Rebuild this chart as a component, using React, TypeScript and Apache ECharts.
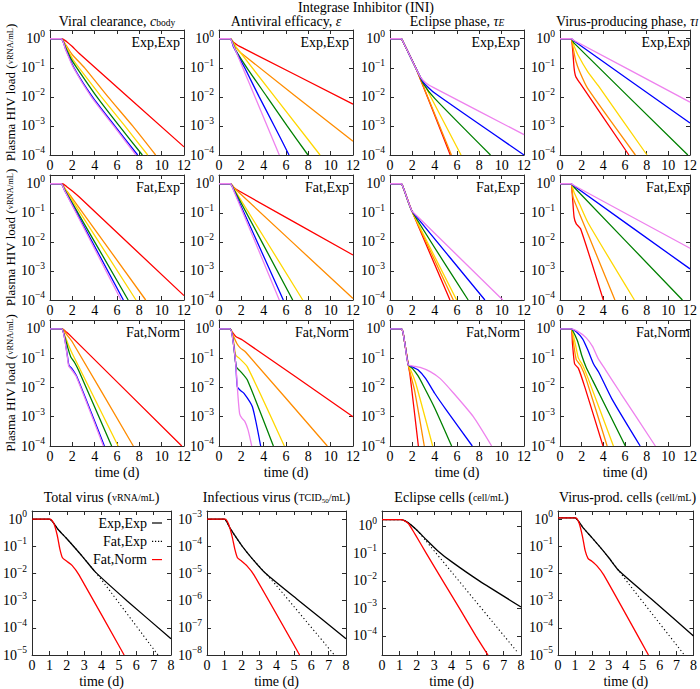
import React, { useEffect, useRef } from "react";
import * as echarts from "echarts";

// Every curve point is [time (d), log10 of the plotted quantity].
type Pt = [number, number];

// ---------------- texts / ticks ----------------
const SUPER_TITLE = "Integrase Inhibitor (INI)";
const COLUMN_TITLES = [
  "Viral clearance, {i|c}{sub|body}",
  "Antiviral efficacy, {i|ε}",
  "Eclipse phase, {i|τ}{subi|E}",
  "Virus-producing phase, {i|τ}{subi|I}",
];
const ROW_TAGS = ["Exp,Exp", "Fat,Exp", "Fat,Norm"];
const BOTTOM_TITLES = [
  "Total virus ({f|vRNA/mL})",
  "Infectious virus ({f|TCID}{fs|50}{f|/mL})",
  "Eclipse cells ({f|cell/mL})",
  "Virus-prod. cells ({f|cell/mL})",
];
const Y_NAME = "Plasma HIV load ({f|vRNA/mL})";
const X_NAME = "time (d)";
const TOP_X = [0, 12, 2]; // min, max, interval
const BOTTOM_X = [0, 8, 1];
const TOP_Y = [1e-4, 2];
const BOTTOM_Y = [
  [1e-5, 2],
  [1e-8, 2e-3],
  [2e-5, 3.5],
  [1e-5, 2],
];
const LEGEND_NAMES = ["Exp,Exp", "Fat,Exp", "Fat,Norm"];

// ---------------- row 1 : Exp,Exp (red, orange, gold, green, blue, violet) ----------------
const clearanceExpExp: Pt[][] = [
  [[0, 0], [1.05, 0], [1.5, -0.1], [2, -0.27], [2.6, -0.5], [12, -3.72]],
  [[0, 0], [1, 0], [1.4, -0.2], [2, -0.55], [3.1, -1], [5.2, -2], [7.4, -3], [9.46, -4]],
  [[0, 0], [1, 0], [1.4, -0.25], [2, -0.68], [2.6, -1], [4.6, -2], [6.7, -3], [8.75, -4]],
  [[0, 0], [1, 0], [1.4, -0.3], [1.9, -0.7], [2.4, -1], [4.2, -2], [6.2, -3], [8.27, -4]],
  [[0, 0], [1, 0], [1.4, -0.35], [2.15, -1], [3.8, -2], [5.8, -3], [7.85, -4]],
  [[0, 0], [1, 0], [1.4, -0.38], [2.1, -1], [3.7, -2], [5.7, -3], [7.7, -4]],
];
const efficacyExpExp: Pt[][] = [
  [[0, 0], [1, 0], [1.3, -0.12], [1.7, -0.23], [2.2, -0.33], [12, -2.25]],
  [[0, 0], [1, 0], [1.5, -0.3], [2, -0.5], [12, -3.53]],
  [[0, 0], [1, 0], [1.5, -0.27], [9.05, -4]],
  [[0, 0], [1, 0], [1.5, -0.4], [2.5, -1], [4.3, -2], [6.1, -3], [7.97, -4]],
  [[0, 0], [1, 0], [1.3, -0.28], [2.3, -1], [3.6, -2], [4.95, -3], [6.27, -4]],
  [[0, 0], [1, 0], [1.2, -0.15], [5.4, -4]],
];
const eclipseExpExp: Pt[][] = [
  [[0, 0], [1, 0], [1.2, -0.13], [2.3, -1], [5.4, -4]],
  [[0, 0], [1, 0], [1.2, -0.13], [2.3, -1], [5.5, -4]],
  [[0, 0], [1, 0], [1.2, -0.13], [2.3, -1], [6.36, -4]],
  [[0, 0], [1, 0], [1.2, -0.13], [2.2, -0.92], [3, -1.55], [4, -2.05], [9, -4]],
  [[0, 0], [1, 0], [1.2, -0.13], [2.2, -0.92], [3, -1.5], [4, -1.87], [12, -4]],
  [[0, 0], [1, 0], [1.2, -0.13], [2.2, -0.92], [2.7, -1.3], [3.3, -1.55], [4, -1.7], [12, -3.3]],
];
const producingExpExp: Pt[][] = [
  [[0, 0], [1, 0], [1.15, -0.3], [1.3, -1.0], [1.45, -1.3], [1.8, -1.5], [6.36, -4]],
  [[0, 0], [1, 0], [1.2, -0.3], [1.45, -0.75], [1.8, -1.12], [2.54, -1.7], [6.96, -4]],
  [[0, 0], [1, 0], [1.3, -0.25], [1.65, -0.55], [2.54, -1.12], [3.5, -1.6], [8.03, -4]],
  [[0, 0], [1, 0], [1.3, -0.15], [11.8, -4]],
  [[0, 0], [1.05, 0], [1.3, -0.08], [12, -2.9]],
  [[0, 0], [1.05, 0], [1.3, -0.06], [12, -2.18]],
];

// ---------------- row 2 : Fat,Exp ----------------
const clearanceFatExp: Pt[][] = [
  [[0, 0], [1.1, 0], [1.5, -0.1], [2, -0.25], [2.6, -0.45], [12, -3.85]],
  [[0, 0], [1, 0], [1.4, -0.2], [2, -0.5], [8.57, -4]],
  [[0, 0], [1, 0], [1.4, -0.22], [7.7, -4]],
  [[0, 0], [1, 0], [1.3, -0.2], [7.0, -4]],
  [[0, 0], [1, 0], [1.3, -0.22], [6.57, -4]],
  [[0, 0], [1, 0], [1.3, -0.23], [6.36, -4]],
];
const efficacyFatExp: Pt[][] = [
  [[0, 0], [1, 0], [1.3, -0.12], [1.8, -0.25], [12, -2.45]],
  [[0, 0], [1, 0], [1.5, -0.2], [12, -3.95]],
  [[0, 0], [1, 0], [1.3, -0.15], [7.5, -4]],
  [[0, 0], [1, 0], [1.3, -0.17], [6.6, -4]],
  [[0, 0], [1, 0], [1.3, -0.2], [5.76, -4]],
  [[0, 0], [1, 0], [1.3, -0.22], [5.4, -4]],
];
const eclipseFatExp: Pt[][] = [
  [[0, 0], [1, 0], [1.2, -0.15], [1.94, -0.92], [5.37, -4]],
  [[0, 0], [1, 0], [1.2, -0.15], [1.94, -0.92], [5.67, -4]],
  [[0, 0], [1, 0], [1.2, -0.15], [1.94, -0.92], [5.97, -4]],
  [[0, 0], [1, 0], [1.2, -0.15], [1.94, -0.92], [7.0, -4]],
  [[0, 0], [1, 0], [1.2, -0.15], [1.94, -0.92], [2.4, -1.15], [8.5, -4]],
  [[0, 0], [1, 0], [1.2, -0.15], [1.94, -0.92], [2.4, -1.1], [10.1, -4]],
];
const producingFatExp: Pt[][] = [
  [[0, 0], [1, 0], [1.12, -0.3], [1.3, -1.15], [1.5, -1.38], [1.9, -1.55], [4.0, -4]],
  [[0, 0], [1, 0], [1.2, -0.46], [1.8, -1.03], [2.7, -1.84], [5.07, -4]],
  [[0, 0], [1, 0], [1.3, -0.3], [1.8, -0.7], [2.6, -1.35], [6.87, -4]],
  [[0, 0], [1, 0], [1.3, -0.12], [11.3, -4]],
  [[0, 0], [1, 0], [1.3, -0.08], [12, -2.93]],
  [[0, 0], [1, 0], [1.3, -0.06], [12, -2.22]],
];

// ---------------- row 3 : Fat,Norm ----------------
const clearanceFatNorm: Pt[][] = [
  [[0, 0], [1.1, 0], [1.5, -0.12], [2, -0.3], [11.8, -4]],
  [[0, 0], [1.1, 0], [1.5, -0.2], [2, -0.45], [7.46, -4]],
  [[0, 0], [1.05, 0], [1.3, -0.2], [1.6, -0.5], [2, -0.85], [6.1, -4]],
  [[0, 0], [1.05, 0], [1.3, -0.25], [1.6, -0.65], [1.85, -0.95], [2.2, -1.15], [2.6, -1.45], [5.52, -4]],
  [[0, 0], [1.05, 0], [1.3, -0.3], [1.55, -0.9], [1.7, -1.25], [1.95, -1.35], [2.4, -1.63], [4.87, -4]],
  [[0, 0], [1.05, 0], [1.3, -0.32], [1.55, -0.95], [1.68, -1.28], [1.9, -1.38], [2.35, -1.63], [4.78, -4]],
];
const efficacyFatNorm: Pt[][] = [
  [[0, 0], [1, 0], [1.2, -0.12], [1.5, -0.26], [2.1, -0.38], [12, -3.0]],
  [[0, 0], [1, 0], [1.3, -0.25], [1.6, -0.5], [1.9, -0.65], [2.4, -0.8], [9.7, -4]],
  [[0, 0], [1, 0], [1.25, -0.3], [1.5, -0.9], [1.8, -1.0], [2.54, -1.3], [5.85, -4]],
  [[0, 0], [1, 0], [1.25, -0.35], [1.55, -1.3], [1.94, -1.46], [2.54, -1.75], [4.87, -4]],
  [[0, 0], [1, 0], [1.25, -0.4], [1.5, -1.2], [1.64, -1.98], [1.9, -2.1], [2.24, -2.2], [2.99, -2.66], [3.73, -4]],
  [[0, 0], [1, 0], [1.25, -0.4], [1.5, -1.2], [1.7, -2.3], [1.85, -2.9], [2.05, -3.05], [2.3, -3.15], [2.6, -3.45], [2.93, -4]],
];
const eclipseFatNorm: Pt[][] = [
  [[0, 0], [1, 0], [1.15, -0.1], [1.35, -0.55], [1.64, -1.23], [1.8, -1.6], [2.54, -4]],
  [[0, 0], [1, 0], [1.15, -0.1], [1.35, -0.55], [1.64, -1.23], [1.8, -1.5], [2.2, -2.1], [3.07, -4]],
  [[0, 0], [1, 0], [1.15, -0.1], [1.35, -0.55], [1.64, -1.23], [1.9, -1.45], [2.3, -1.85], [3.82, -4]],
  [[0, 0], [1, 0], [1.15, -0.1], [1.35, -0.55], [1.64, -1.23], [2.0, -1.35], [2.5, -1.6], [3.0, -1.95], [4.0, -2.7], [5.52, -4]],
  [[0, 0], [1, 0], [1.15, -0.1], [1.35, -0.55], [1.64, -1.23], [2.0, -1.3], [2.5, -1.4], [3.2, -1.7], [4.0, -2.2], [5.0, -2.75], [7.37, -4]],
  [[0, 0], [1, 0], [1.15, -0.1], [1.35, -0.55], [1.64, -1.23], [2.1, -1.27], [2.7, -1.32], [3.6, -1.46], [4.5, -1.7], [5.7, -2.2], [7.46, -3.0], [9.1, -4]],
];
const producingFatNorm: Pt[][] = [
  [[0, 0], [1, 0], [1.15, -0.5], [1.35, -1.2], [1.7, -1.35], [2.3, -2.0], [3.97, -4]],
  [[0, 0], [1, 0], [1.25, -0.5], [1.5, -1.05], [1.9, -1.25], [2.4, -1.7], [4.35, -4]],
  [[0, 0], [1, 0], [1.4, -0.5], [1.7, -1.0], [2.1, -1.25], [2.6, -1.7], [4.93, -4]],
  [[0, 0], [1, 0], [1.6, -0.4], [2.0, -0.9], [2.4, -1.3], [3.0, -1.75], [6.03, -4]],
  [[0, 0], [1, 0], [1.5, -0.1], [2.1, -0.35], [2.6, -0.75], [3.1, -1.2], [3.6, -1.5], [4.8, -2.4], [7.4, -4]],
  [[0, 0], [1, 0], [1.6, -0.08], [2.4, -0.3], [3.0, -0.6], [3.5, -1.0], [4.2, -1.4], [5.6, -2.2], [8.8, -4]],
];

// ---------------- bottom row (Exp,Exp solid / Fat,Exp dotted / Fat,Norm red) ----------------
const totalVirus: Pt[][] = [
  [[0, 0], [1, 0], [1.5, -0.38], [2, -0.72], [2.5, -1.08], [3, -1.45], [3.65, -1.95], [5.46, -3], [8, -4.4]],
  [[0, 0], [1, 0], [1.5, -0.38], [2, -0.72], [2.5, -1.08], [3, -1.45], [3.65, -1.95], [4.2, -2.4], [7.25, -5]],
  [[0, 0], [1.05, 0], [1.25, -0.15], [1.45, -0.6], [1.6, -1.1], [1.75, -1.42], [2.0, -1.55], [2.3, -1.7], [2.7, -2.05], [5.3, -5]],
];
const infectiousVirus: Pt[][] = [
  [[0, -3], [1, -3], [1.3, -3.3], [1.6, -3.6], [2, -3.97], [2.6, -4.45], [3.35, -4.98], [5.29, -6], [8, -7.4]],
  [[0, -3], [1, -3], [1.3, -3.3], [1.6, -3.6], [2, -3.97], [2.6, -4.45], [3.35, -4.98], [4, -5.45], [7.33, -8]],
  [[0, -3], [1.05, -3], [1.25, -3.2], [1.45, -3.65], [1.6, -4.1], [1.75, -4.42], [2.0, -4.55], [2.3, -4.72], [2.7, -5.05], [5.33, -8]],
];
const eclipseCells: Pt[][] = [
  [[0, 0.23], [1.1, 0.23], [1.5, 0.12], [2, -0.15], [2.5, -0.47], [3.2, -0.9], [4, -1.3], [5.6, -2], [8, -2.95]],
  [[0, 0.23], [1.1, 0.23], [1.5, 0.12], [2, -0.15], [2.5, -0.52], [7.8, -4.6]],
  [[0, 0.23], [1.1, 0.23], [1.5, 0.1], [1.9, -0.3], [2.55, -1], [3.5, -2], [4.46, -3], [5.4, -4], [6.1, -4.7]],
];
const producingCells: Pt[][] = [
  [[0, 0.05], [1, 0.05], [1.5, -0.33], [2, -0.68], [2.5, -1.04], [3, -1.42], [3.6, -1.9], [5.63, -3], [8, -4.3]],
  [[0, 0.05], [1, 0.05], [1.5, -0.33], [2, -0.68], [2.5, -1.04], [3, -1.42], [3.6, -1.9], [4.2, -2.4], [7.46, -5]],
  [[0, 0.05], [1.05, 0.05], [1.25, -0.15], [1.45, -0.65], [1.6, -1.15], [1.77, -1.44], [2.0, -1.55], [2.3, -1.72], [2.7, -2.05], [5.34, -5]],
];

const TOP_PANELS = [
  [clearanceExpExp, efficacyExpExp, eclipseExpExp, producingExpExp],
  [clearanceFatExp, efficacyFatExp, eclipseFatExp, producingFatExp],
  [clearanceFatNorm, efficacyFatNorm, eclipseFatNorm, producingFatNorm],
];
const BOTTOM_PANELS = [totalVirus, infectiousVirus, eclipseCells, producingCells];

// ---------------- styling / layout ----------------
const FONT = "Liberation Serif";
const AXIS_COLOR = "#2b2b2b";
const TOP_COLORS = ["#ff0000", "#ff8c00", "#ffd700", "#008000", "#0000ff", "#ee82ee"];
const TOP_LEFTS = [50, 219, 390, 560];
const TOP_TOPS = [30, 175, 320];
const TOP_HEIGHTS = [125, 125, 126];
const TOP_W = 134;
const BOT_LEFTS = [32, 207, 382, 558];
const BOT_TOP = 511;
const BOT_W = 139;
const BOT_H = 145;
const LEGEND_ICONS = [
  "path://M0,4.4 L10,4.4 L10,5.6 L0,5.6 Z",
  "path://M0,4.4h1.2v1.2h-1.2z M3,4.4h1.2v1.2h-1.2z M6,4.4h1.2v1.2h-1.2z M8.8,4.4h1.2v1.2h-1.2z",
  "path://M0,4.4 L10,4.4 L10,5.6 L0,5.6 Z",
];

const labelRich = {
  b: { fontSize: 14, fontFamily: FONT, color: "#000", lineHeight: 20 },
  s: { fontSize: 9.5, fontFamily: FONT, color: "#000", lineHeight: 10, verticalAlign: "top" },
};
function expLabel(v: number) {
  const l = Math.log10(v);
  const e = Math.round(l);
  if (Math.abs(l - e) > 0.01) return "";
  return `{b|10}{s|${e < 0 ? "\u2212" + -e : e}}`;
}
const nameRich = {
  f: { fontSize: 10, fontFamily: FONT, color: "#000" },
  fs: { fontSize: 7, fontFamily: FONT, color: "#000", verticalAlign: "bottom", lineHeight: 8 },
};
const yNameRich = {
  f: { fontSize: 8.5, fontFamily: FONT, color: "#000" },
};

function buildOption() {
  const grid: any[] = [];
  const xAxis: any[] = [];
  const yAxis: any[] = [];
  const series: any[] = [];
  const graphic: any[] = [];
  const lineStyle = { color: AXIS_COLOR, width: 1 };
  const tick = { show: true, inside: true, length: 4, lineStyle };

  const addPanel = (left: number, top: number, w: number, h: number, xr: number[], yr: number[], xName: string | null, yName: string | null) => {
    const g = grid.length;
    grid.push({ left, top, width: w, height: h, show: false });
    xAxis.push({
      type: "value", gridIndex: g, position: "bottom", min: xr[0], max: xr[1], interval: xr[2],
      axisLine: { show: true, onZero: false, lineStyle }, axisTick: tick,
      axisLabel: { margin: 3, fontSize: 14, fontFamily: FONT, color: "#000" },
      splitLine: { show: false },
      name: xName || "", nameLocation: "middle", nameGap: 19,
      nameTextStyle: { fontSize: 14, fontFamily: FONT, color: "#000" },
    });
    xAxis.push({
      type: "value", gridIndex: g, position: "top", min: xr[0], max: xr[1], interval: xr[2],
      axisLine: { show: true, onZero: false, lineStyle }, axisTick: tick,
      axisLabel: { show: false }, splitLine: { show: false },
    });
    yAxis.push({
      type: "log", logBase: 10, gridIndex: g, position: "left", min: yr[0], max: yr[1],
      axisLine: { show: true, onZero: false, lineStyle }, axisTick: tick,
      axisLabel: { margin: 5, formatter: expLabel, rich: labelRich },
      splitLine: { show: false }, minorTick: { show: false },
      name: yName || "", nameLocation: "middle", nameGap: 33, nameRotate: 90,
      nameTextStyle: { fontSize: 13, fontFamily: FONT, color: "#000", rich: yNameRich },
    });
    yAxis.push({
      type: "log", logBase: 10, gridIndex: g, position: "right", min: yr[0], max: yr[1],
      axisLine: { show: true, onZero: false, lineStyle }, axisTick: tick,
      axisLabel: { show: false }, splitLine: { show: false },
    });
    return g;
  };

  const textStyle = (t: string, size: number, align: string, rich: any, lineHeight?: number) => ({
    text: t, fill: "#000", fontSize: size, fontFamily: FONT,
    lineHeight: lineHeight || size + 1,
    align, verticalAlign: "middle",
    rich,
  });

  graphic.push({ type: "text", x: 366, y: 7, silent: true, style: textStyle(SUPER_TITLE, 14, "center", {}, 13) });
  const titleRich = {
    i: { fontStyle: "italic", fontSize: 14, fontFamily: FONT, color: "#000" },
    sub: { fontSize: 9.5, fontFamily: FONT, color: "#000", verticalAlign: "bottom", lineHeight: 9 },
    subi: { fontSize: 9.5, fontStyle: "italic", fontFamily: FONT, color: "#000", verticalAlign: "bottom", lineHeight: 9 },
  };

  TOP_PANELS.forEach((row, r) => {
    row.forEach((curves, c) => {
      const g = addPanel(TOP_LEFTS[c], TOP_TOPS[r], TOP_W, TOP_HEIGHTS[r], TOP_X, TOP_Y, r === 2 ? X_NAME : null, c === 0 ? Y_NAME : null);
      curves.forEach((pts, k) => {
        series.push({
          type: "line", name: `${ROW_TAGS[r]} ${c}-${k}`, xAxisIndex: 2 * g, yAxisIndex: 2 * g,
          data: pts.map(([t, e]) => [t, Math.pow(10, e)]),
          symbol: "none", smooth: 0.2, clip: true,
          lineStyle: { color: TOP_COLORS[k], width: 1.3 }, itemStyle: { color: TOP_COLORS[k] },
          silent: true,
        });
      });
      graphic.push({ type: "text", x: TOP_LEFTS[c] + TOP_W - 4, y: TOP_TOPS[r] + 12, silent: true, style: textStyle(ROW_TAGS[r], 14, "right", {}) });
    });
  });
  COLUMN_TITLES.forEach((t, c) => {
    graphic.push({ type: "text", x: TOP_LEFTS[c] + TOP_W / 2, y: 21, silent: true, style: textStyle(t, 14, "center", titleRich, 13) });
  });

  const bottomStyles = [
    { color: "#000000", width: 1.3, type: "solid" },
    { color: "#000000", width: 1.1, type: [1.2, 2.6] },
    { color: "#ff0000", width: 1.3, type: "solid" },
  ];
  BOTTOM_PANELS.forEach((curves, c) => {
    const g = addPanel(BOT_LEFTS[c], BOT_TOP, BOT_W, BOT_H, BOTTOM_X, BOTTOM_Y[c], X_NAME, null);
    curves.forEach((pts, k) => {
      series.push({
        type: "line", name: LEGEND_NAMES[k], xAxisIndex: 2 * g, yAxisIndex: 2 * g,
        data: pts.map(([t, e]) => [t, Math.pow(10, e)]),
        symbol: "none", smooth: 0.2, clip: true,
        lineStyle: bottomStyles[k], itemStyle: { color: bottomStyles[k].color },
        silent: true,
      });
    });
    graphic.push({ type: "text", x: BOT_LEFTS[c] + BOT_W / 2, y: 497, silent: true, style: textStyle(BOTTOM_TITLES[c], 14, "center", nameRich, 15) });
  });

  const legend = LEGEND_NAMES.map((n, k) => ({
    data: [{ name: n, icon: LEGEND_ICONS[k] }],
    orient: "vertical", align: "right", right: 700 - 162, top: 516 + k * 18.3,
    padding: 0, itemWidth: 10, itemHeight: 10, itemGap: 0,
    selectedMode: false,
    itemStyle: { color: bottomStyles[k].color, borderWidth: 0 },
    lineStyle: { width: 0 },
    textStyle: { fontSize: 14, fontFamily: FONT, color: "#000" },
  }));

  return { animation: false, backgroundColor: "#fff", grid, xAxis, yAxis, series, graphic, legend };
}

export default function App() {
  const ref = useRef<HTMLDivElement>(null);
  useEffect(() => {
    if (!ref.current) return;
    const chart = echarts.init(ref.current, undefined, { renderer: "svg" });
    chart.setOption(buildOption() as any);
    return () => chart.dispose();
  }, []);
  return <div ref={ref} style={{ position: "fixed", left: 0, top: 0, width: 700, height: 689 }} />;
}
